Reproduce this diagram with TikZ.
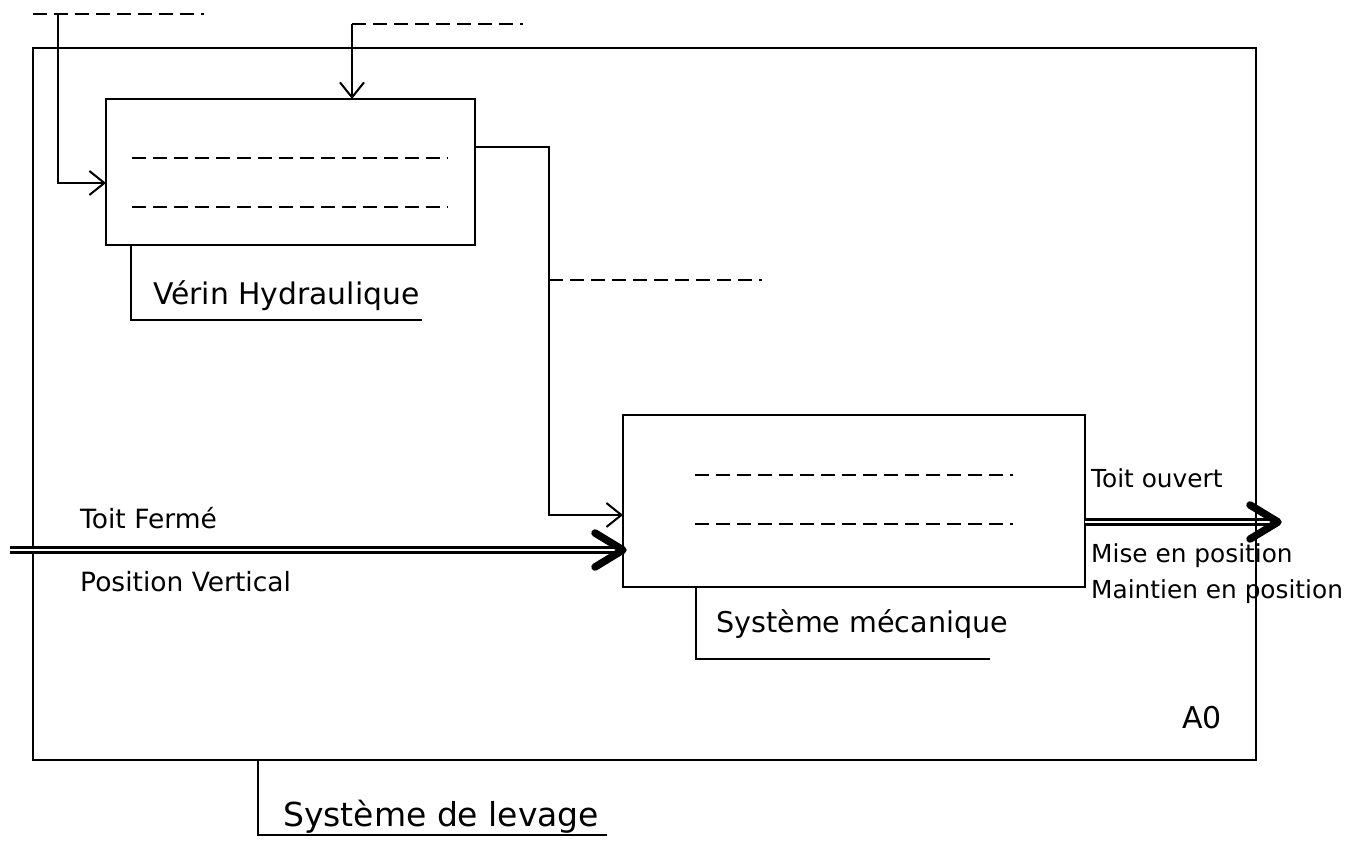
\documentclass[tikz,border=0pt]{standalone}
\usepackage{fontspec}
\setmainfont{DejaVu Sans}
\usetikzlibrary{arrows.meta,calc}
\tikzset{
  box/.style={draw, line width=2.7pt, inner sep=0pt, outer sep=0pt, rectangle},
  ln/.style={line width=2.7pt},
  dashln/.style={line width=2.7pt, dash pattern=on 14pt off 7pt},
  thinarrow/.style={line width=2.4pt, -{Straight Barb[length=15pt,width=24pt,line width=2pt]}},
  dbl/.style={line width=2.8pt, double=white, double distance=2pt},
  head/.style={line width=7.5pt, line cap=round, line join=round},
  small/.style={font=\fontsize{26.5}{30}\selectfont, inner sep=0pt, anchor=base west},
  smallr/.style={font=\fontsize{24.8}{28}\selectfont, inner sep=0pt, anchor=base west},
  big/.style={font=\fontsize{29.8}{34}\selectfont, inner sep=0pt, anchor=base west},
}
\begin{document}
\begin{tikzpicture}[x=1pt,y=-1pt]
\useasboundingbox (0,0) rectangle (1357,850);
\fill[white] (0,0) rectangle (1357,850);

% outer A0 box
\node[box, minimum width=1223pt, minimum height=712pt, anchor=north west] (outer) at (33,48) {};
% Verin box
\node[box, minimum width=369pt, minimum height=146pt, anchor=north west] (vh) at (106,99) {};
% Systeme mecanique box
\node[box, minimum width=462pt, minimum height=172pt, anchor=north west] (sm) at (623,415) {};

% inner dashed lines
\draw[dashln] (132,158) -- (448,158);
\draw[dashln] (132,207) -- (448,207);
\draw[dashln] (695,475) -- (1013,475);
\draw[dashln] (695,524) -- (1013,524);

% labels brackets
\draw[ln] ([xshift=25pt]vh.south west) -- ++(0,75) -- ++(291,0);
\draw[ln] ([xshift=73pt]sm.south west) -- ++(0,72) -- ++(294,0);
\draw[ln] (258,760) -- (258,835) -- (607,835);

\node[big] (lvh) at (153,305) {Vérin Hydraulique};
\node[big, font=\fontsize{28.6}{34}\selectfont] (lsm) at (716,632) {Système mécanique};
\node[big, font=\fontsize{33}{38}\selectfont] (lsl) at (283,826) {Système de levage};
\node[big, font=\fontsize{30}{34}\selectfont] (la0) at (1182,728) {A0};

% control 1
\coordinate (d1a) at (33,14);
\coordinate (d1b) at (204,14);
\coordinate (c1s) at (58,14);
\draw[dashln] (d1a) -- (d1b);
\draw[thinarrow] (c1s) |- ([yshift=-11pt]vh.west);

% control 2
\coordinate (d2a) at (352,24);
\coordinate (d2b) at (523,24);
\draw[dashln] (d2a) -- (d2b);
\draw[thinarrow] (d2a) -- (d2a |- vh.north);

% output of verin to systeme mecanique
\coordinate (jv) at (549,147);
\draw[thinarrow] ([yshift=25pt]vh.east) -- (jv) |- ([yshift=-14pt]sm.west);
\coordinate (j3a) at (549,280);
\coordinate (j3b) at (762,280);
\draw[dashln] (j3a) -- (j3b);

% main input
\coordinate (in) at (10,550);
\coordinate (tipin) at ([yshift=-49pt]sm.west);
\draw[dbl] (in) -- ($(tipin)+(-8,0)$);
\draw[head] ($(tipin)+(-28,-17)$) -- (tipin) -- ($(tipin)+(-28,17)$);

% main output
\coordinate (tipout) at (1278,522);
\draw[dbl] ([yshift=-21pt]sm.east) -- ($(tipout)+(-8,0)$);
\draw[head] ($(tipout)+(-28,-17)$) -- (tipout) -- ($(tipout)+(-28,17)$);

\node[small] (tf) at (80,528) {Toit Fermé};
\node[small] (pv) at (80,591) {Position Vertical};
\node[smallr] (to) at (1091,487) {Toit ouvert};
\node[smallr] (mp) at (1091,562) {Mise en position};
\node[smallr] (mt) at (1091,598) {Maintien en position};

% redraw outer right border over text
\draw[ln] (outer.north east) -- (outer.south east);
\end{tikzpicture}
\end{document}
